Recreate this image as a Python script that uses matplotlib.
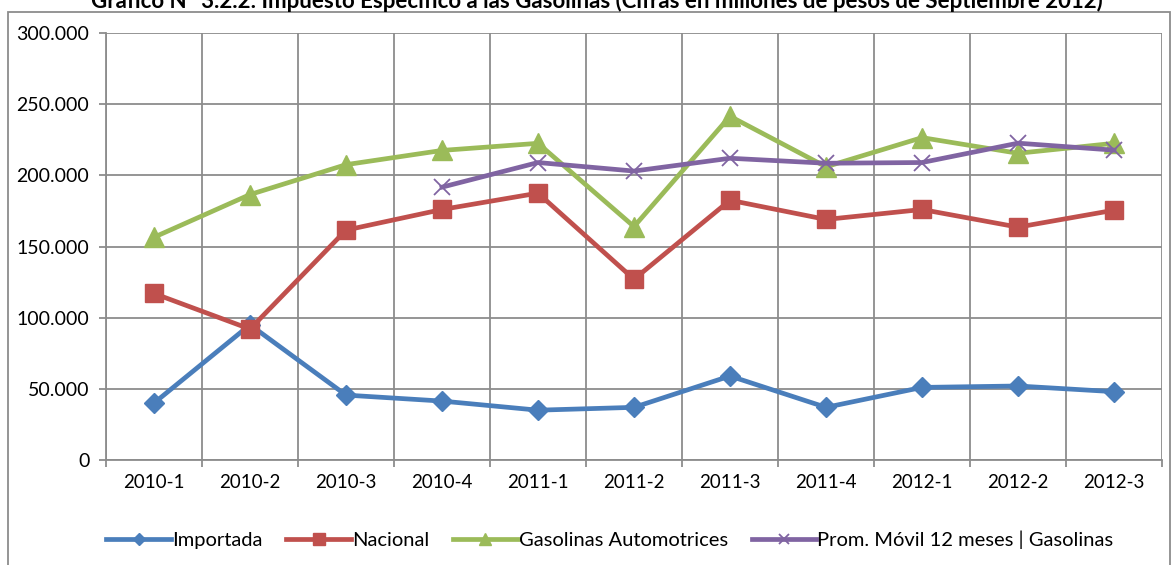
import numpy as np
import matplotlib
matplotlib.use('Agg')
import matplotlib.pyplot as plt
from matplotlib.patches import Rectangle
from matplotlib.ticker import FuncFormatter

# values in thousands of millions of pesos
periods = ['2010-1', '2010-2', '2010-3', '2010-4', '2011-1', '2011-2',
           '2011-3', '2011-4', '2012-1', '2012-2', '2012-3']
importada = [40000, 95000, 45600, 41400, 35000, 37000, 59000, 37000, 51000, 52000, 48000]
nacional = [117000, 92000, 161500, 176000, 187500, 127000, 182500, 169000, 176000, 163600, 175500]
gasolinas = [156500, 186500, 207500, 217500, 222500, 164000, 241500, 206000, 226500, 215500, 222500]
prom_movil = [np.nan, np.nan, np.nan, 191700, 209000, 203000, 212000, 208500, 209000, 222600, 217700]

plt.rcParams['font.family'] = ['Lato', 'DejaVu Sans']

W, H = 1174, 565
fig = plt.figure(figsize=(W / 100, H / 100), dpi=100)
ax = fig.add_axes([106 / W, 1 - 460 / H, (1162 - 106) / W, (460 - 33) / H])

x = np.arange(len(periods))
ax.plot(x, importada, color='#4A7EBB', lw=3.4, marker='D', ms=10, label='Importada', zorder=3)
ax.plot(x, nacional, color='#C0504D', lw=3.4, marker='s', ms=13.5, label='Nacional', zorder=3)
ax.plot(x, gasolinas, color='#9BBB59', lw=3.4, marker='^', ms=15, label='Gasolinas Automotrices', zorder=3)
ax.plot(x, prom_movil, color='#8064A2', lw=3.4, marker='x', ms=11, mew=1.3,
        label='Prom. Móvil 12 meses | Gasolinas', zorder=4)

ax.set_xlim(-0.5, len(periods) - 0.5)
ax.set_ylim(0, 300000)
ax.set_yticks(np.arange(0, 300001, 50000))
ax.yaxis.set_major_formatter(FuncFormatter(lambda v, p: '0' if v == 0 else f'{int(v):,}'.replace(',', '.')))
ax.set_xticks(x)
ax.set_xticklabels(periods)
ax.set_xticks(np.arange(-0.5, len(periods)), minor=True)

ax.grid(True, axis='y', which='major', color='#8c8c8c', lw=1.3)
ax.grid(True, axis='x', which='minor', color='#8c8c8c', lw=1.3)
ax.tick_params(axis='x', which='major', length=0, labelsize=13.5, pad=10)
ax.tick_params(axis='x', which='minor', length=5, color='#8c8c8c', width=1.3)
ax.tick_params(axis='y', length=5, color='#8c8c8c', width=1.3, labelsize=14, pad=7)
for s in ['left', 'bottom']:
    ax.spines[s].set_color('#8c8c8c')
    ax.spines[s].set_linewidth(1.3)
for s in ['top', 'right']:
    ax.spines[s].set_visible(False)

leg = fig.legend(loc='center', bbox_to_anchor=(610 / W, 1 - 540 / H), ncol=4, frameon=False,
                 fontsize=14.5, handlelength=3.2, columnspacing=1.2, handletextpad=0.05,
                 markerscale=0.6)

fig.patches.append(Rectangle((8 / W, -0.05), (1170 - 8) / W, 1.05 - 12 / H, transform=fig.transFigure,
                             fill=False, edgecolor='#8c8c8c', lw=1.3))
fig.text(597 / W, 1 - 1 / H,
         'Gráfico N° 3.2.2: Impuesto Específico a las Gasolinas (Cifras en millones de pesos de Septiembre 2012)',
         ha='center', va='center', fontsize=16, fontweight='bold')

fig.savefig('out.png', dpi=100)
